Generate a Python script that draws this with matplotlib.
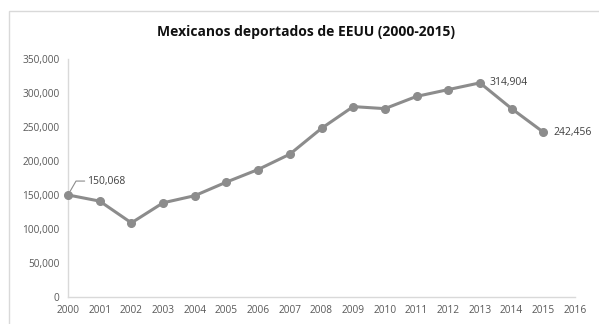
import matplotlib.pyplot as plt
from matplotlib.patches import Rectangle
from matplotlib.ticker import FuncFormatter

years = [str(y) for y in range(2000, 2017)]
deportados = [150068, 141000, 109000, 138500, 149000, 169000, 187500, 210000,
              248000, 280000, 277000, 295000, 305000, 314904, 277000, 242456]
etiquetas = {0: "150,068", 13: "314,904", 15: "242,456"}

plt.rcParams['font.family'] = ['Open Sans', 'DejaVu Sans']

fig = plt.figure(figsize=(5.99, 3.24), dpi=100)
fig.patches.append(Rectangle((9 / 599, -0.1), 1.0, 1 - 11 / 324 + 0.1,
                             transform=fig.transFigure, fill=False,
                             edgecolor='#d9d9d9', linewidth=1.0))
ax = fig.add_axes([68 / 599, 1 - 297 / 324, (575 - 68) / 599, (297 - 59) / 324])

x = list(range(len(deportados)))
ax.plot(x, deportados, color='#8c8c8c', linewidth=2.2, marker='o',
        markersize=5.5, zorder=3, clip_on=False)

ax.set_xlim(0, 16)
ax.set_ylim(0, 350000)
ax.set_xticks(range(len(years)))
ax.set_xticklabels(years)
ax.set_yticks(range(0, 350001, 50000))
ax.yaxis.set_major_formatter(FuncFormatter(lambda v, p: "{:,.0f}".format(v)))
ax.tick_params(length=0, labelsize=7.3, colors='#595959', pad=6)

for s in ['top', 'right']:
    ax.spines[s].set_visible(False)
for s in ['left', 'bottom']:
    ax.spines[s].set_color('#d9d9d9')
    ax.spines[s].set_linewidth(1.0)

# labels
i = 0
ax.annotate(etiquetas[i], xy=(x[i], deportados[i]), xytext=(14, 10),
            textcoords='offset points', fontsize=7.5, color='#404040',
            va='center', ha='left',
            arrowprops=dict(arrowstyle='-', color='#8c8c8c', lw=0.8,
                            connectionstyle='angle,angleA=0,angleB=60,rad=0',
                            shrinkA=0, shrinkB=3))
for i in [13, 15]:
    ax.annotate(etiquetas[i], xy=(x[i], deportados[i]), xytext=(7, 0),
                textcoords='offset points', fontsize=7.5, color='#404040',
                va='center', ha='left')

fig.text(306 / 599, 1 - 32 / 324, "Mexicanos deportados de EEUU (2000-2015)",
         ha='center', va='center', fontsize=10, fontweight='bold', color='#111111')

fig.savefig("out.png", dpi=100)
